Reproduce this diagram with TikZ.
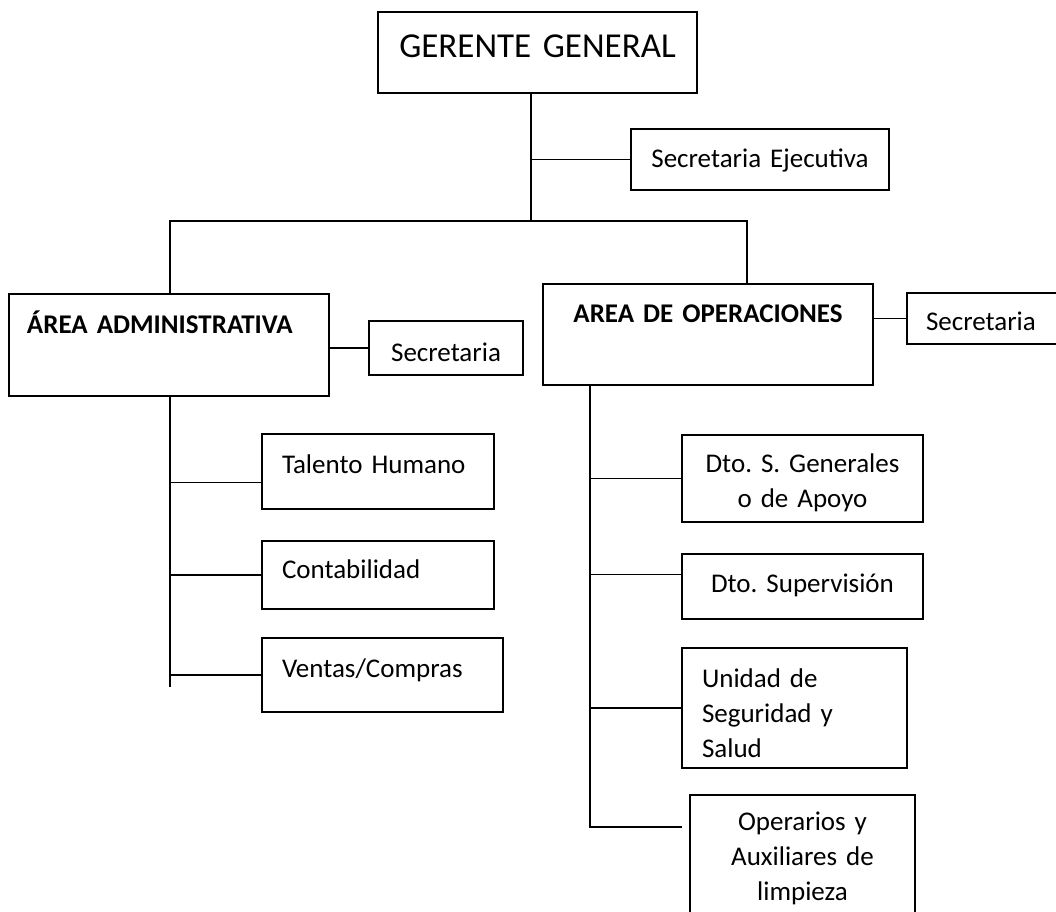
\documentclass[tikz,border=0pt]{standalone}
\usepackage{fontspec}
\setmainfont{Carlito}[WordSpace=0.9]
\usetikzlibrary{calc}

\tikzset{
  orgbox/.style={draw, line width=1.3pt, inner ysep=0pt, inner xsep=0pt, outer sep=0pt,
    anchor=north west, align=center, font=\fontsize{27}{35}\selectfont},
  leftbox/.style={orgbox, align=left, inner xsep=#1},
  wire/.style={line width=1.3pt}
}

\begin{document}
\frenchspacing
\begin{tikzpicture}[x=1pt, y=-1pt]
                \useasboundingbox (0,0) rectangle (1056,911);
                % Boxes:
                \node[orgbox, text width=319pt, text height=45pt, text depth=36pt,
                      font=\fontsize{35}{42}\selectfont] (gg) at (378,12) {GERENTE GENERAL};
                \node[orgbox, text width=258pt, text height=38pt, text depth=23pt] (secej) at (631,129) {Secretaria Ejecutiva};
                \node[leftbox=18pt, text width=284pt, text height=39pt, text depth=63pt,
                      font=\fontsize{27}{35}\selectfont\bfseries] (admin) at (9,294) {ÁREA ADMINISTRATIVA};
                \node[orgbox, text width=154pt, text height=40pt, text depth=14pt] (secadm) at (369,321) {Secretaria};
                \node[orgbox, text width=330pt, text height=38pt, text depth=63pt,
                      font=\fontsize{27}{35}\selectfont\bfseries] (ops) at (543,284) {AREA DE OPERACIONES};
                \node[leftbox=19pt, text width=150pt, text height=37pt, text depth=14pt] (secops) at (907,293) {Secretaria};
                \node[leftbox=20pt, text width=192pt, text height=39pt, text depth=36pt] (th) at (262,434) {Talento Humano};
                \node[leftbox=20pt, text width=192pt, text height=37pt, text depth=31pt] (cont) at (262,541) {Contabilidad};
                \node[leftbox=20pt, text width=201pt, text height=39pt, text depth=35pt] (vc) at (262,638) {Ventas/Compras};
                \node[orgbox, text width=241pt, text height=37pt, text depth=50pt] (dsg) at (682,435) {Dto. S. Generales\\o de Apoyo};
                \node[orgbox, text width=241pt, text height=38pt, text depth=27pt] (dsup) at (682,554) {Dto. Supervisión};
                \node[leftbox=20pt, text width=185pt, text height=39pt, text depth=81pt] (usys) at (682,648) {Unidad de\\Seguridad y\\Salud};
                \node[orgbox, text width=225pt, text height=35pt, text depth=120pt] (oper) at (690,795) {Operarios y\\Auxiliares de\\limpieza};
                % Wires:
                \coordinate (hub) at (531,221);
                \coordinate (lft) at (170,221);
                \coordinate (rgt) at (747,221);
                \coordinate (aend) at (170,687);
                \coordinate (oend) at (590,827);
                \coordinate (opfree) at (682,827);
                \coordinate (thjoin) at ($(th.west)+(0,11)$);
                \coordinate (dsupjoin) at ($(dsup.west)+(0,-12)$);
                \draw[wire] (hub |- gg.south) -- (hub);
                \draw[wire] (hub |- secej.west) -- (secej.west);
                \draw[wire] (lft |- admin.north) -- (lft) -- (rgt) -- (rgt |- ops.north);
                \draw[wire] (admin.east |- secadm.west) -- (secadm.west);
                \draw[wire] (ops.east |- secops.west) -- (secops.west);
                \draw[wire] (aend |- admin.south) -- (aend);
                \draw[wire] (aend |- thjoin) -- (thjoin);
                \draw[wire] (aend |- cont.west) -- (cont.west);
                \draw[wire] (aend |- vc.west) -- (vc.west);
                \draw[wire] (oend |- ops.south) -- (oend) -- (opfree);
                \draw[wire] (oend |- dsg.west) -- (dsg.west);
                \draw[wire] (oend |- dsupjoin) -- (dsupjoin);
                \draw[wire] (oend |- usys.west) -- (usys.west);
            \end{tikzpicture}
\end{document}
